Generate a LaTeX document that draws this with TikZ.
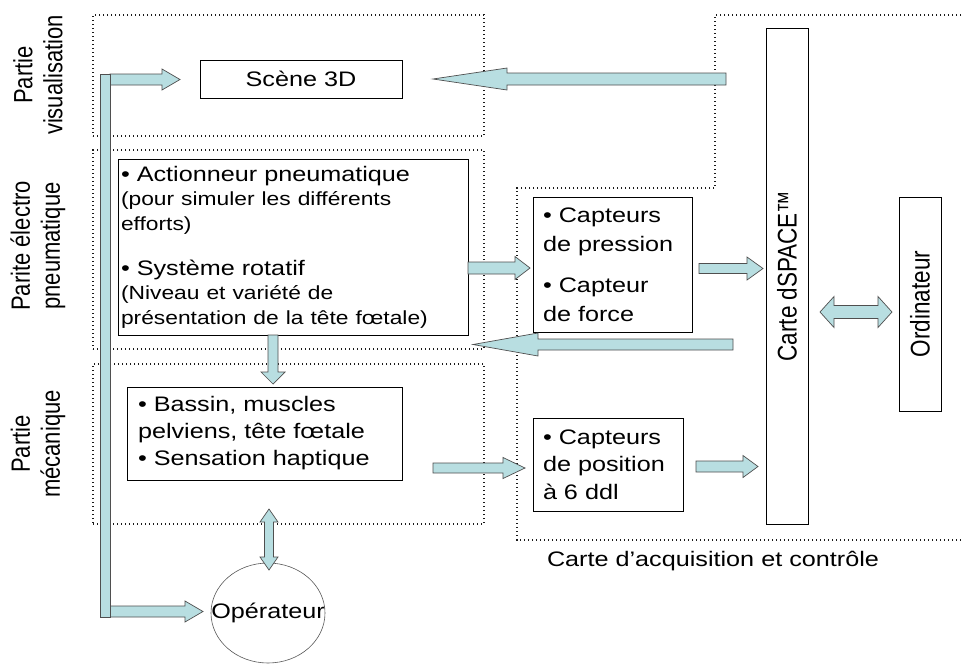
\documentclass[tikz,border=0pt]{standalone}
\usepackage{fontspec}
\setmainfont{Liberation Sans}[FakeStretch=1.2]
\newfontfamily\rotfont{Liberation Sans}
\usepackage{graphicx}
\usepackage{xcolor}
\definecolor{arrowFill}{HTML}{B8DEE1}
\definecolor{arrowLine}{HTML}{4F4F4F}
\definecolor{frameDot}{HTML}{1A1A1A}
\usetikzlibrary{shapes.geometric, calc, positioning}
\newcommand{\smallTxt}{\fontsize{19}{24.5}\selectfont}
\newcommand{\upText}[1]{\rotatebox{90}{\scalebox{1}[1.2]{#1}}}
\tikzset{
    bar shaft/.store in=\barShaft, bar head/.store in=\barHead, bar tip/.store in=\barTip,
    bar shaft=5.5pt, bar head=11pt, bar tip=16pt
}

\begin{document}
\begin{tikzpicture}[
    x=1pt, y=-1pt,
    every node/.style={inner sep=0pt, outer sep=0pt},
    box/.style={draw=black, line width=0.9pt, fill=white, font=\fontsize{21}{27}\selectfont},
    listBox/.style={box, align=left},
    vBox/.style={box, font=\rotfont\fontsize{22.5}{27}\selectfont},
    sideLbl/.style={rotate=90, yscale=1.2, align=center, font=\rotfont\fontsize{22}{25}\selectfont},
    frame/.style={draw=frameDot, line width=1.3pt, dash pattern=on 1.3pt off 2.7pt},
    % Block arrows
    arrowBody/.style={draw=arrowLine, fill=arrowFill, line width=0.7pt, line join=miter},
    barrow/.style={arrowBody, to path={
        let \p1=(\tikztostart), \p2=(\tikztotarget),
            \n1={atan2(\y2-\y1,\x2-\x1)}, \n2={veclen(\x2-\x1,\y2-\y1)} in
        [shift={(\p1)}, rotate=\n1]
        (0pt,-\barShaft) -- ({\n2*1pt-\barTip},-\barShaft) -- ({\n2*1pt-\barTip},-\barHead)
        -- ({\n2*1pt},0pt) -- ({\n2*1pt-\barTip},\barHead) -- ({\n2*1pt-\barTip},\barShaft)
        -- (0pt,\barShaft) -- cycle}},
    dbarrow/.style={arrowBody, to path={
        let \p1=(\tikztostart), \p2=(\tikztotarget),
            \n1={atan2(\y2-\y1,\x2-\x1)}, \n2={veclen(\x2-\x1,\y2-\y1)} in
        [shift={(\p1)}, rotate=\n1]
        (0pt,0pt) -- (\barTip,-\barHead) -- (\barTip,-\barShaft)
        -- ({\n2*1pt-\barTip},-\barShaft) -- ({\n2*1pt-\barTip},-\barHead)
        -- ({\n2*1pt},0pt) -- ({\n2*1pt-\barTip},\barHead) -- ({\n2*1pt-\barTip},\barShaft)
        -- (\barTip,\barShaft) -- (\barTip,\barHead) -- cycle}}
]
    \fill[white] (0,0) rectangle (962,665);
    \useasboundingbox (0,0) rectangle (962,665);

    % Dotted frames
    \node (visF) [frame, minimum width=391pt, minimum height=121pt] at (288.5,75.5) {};
    \node (elecF) [frame, minimum width=391pt, minimum height=199pt] at (288.5,249.5) {};
    \node (mecaF) [frame, minimum width=391pt, minimum height=160pt] at (288.5,444) {};
    \coordinate (acqA) at (961,15);
    \coordinate (acqB) at (715,15);
    \coordinate (acqC) at (715,188);
    \coordinate (acqD) at (517,188);
    \coordinate (acqE) at (517,540);
    \coordinate (acqF) at (961,540);
    \draw [frame] (acqA) -- (acqB) -- (acqC) -- (acqD) -- (acqE) -- (acqF);

    % Side labels
    \node (visL) [sideLbl] at (38,75) {Partie\\visualisation};
    \node (elecL) [sideLbl] at (38,246) {Parite électro\\pneumatique};
    \node (mecaL) [sideLbl] at (38,444) {Partie\\mécanique};
    \node (acqL) [font=\fontsize{21}{25}\selectfont] at (713,561) {Carte d’acquisition et contrôle};

    % Blocks
    \node (scene) [box, minimum width=202pt, minimum height=38pt] at (301,79) {Scène 3D};
    \node (act) [listBox, text width=344pt, inner xsep=3pt, minimum height=176pt,
        font=\fontsize{21}{24.5}\selectfont] at (293,247)
        {• Actionneur pneumatique\\
         {\smallTxt (pour simuler les différents}\\
         {\smallTxt efforts)}\\[20.5pt]
         • Système rotatif\\
         {\smallTxt (Niveau et variété de}\\
         {\smallTxt présentation de la tête fœtale)}};
    \node (capP) [listBox, text width=139pt, inner xsep=10pt, minimum height=135pt,
        font=\fontsize{21}{29}\selectfont] at (612.5,264.5)
        {• Capteurs\\ de pression\\[12pt] • Capteur\\ de force};
    \node (bassin) [listBox, text width=253pt, inner xsep=11pt, minimum height=93pt,
        font=\fontsize{21}{27}\selectfont] at (264.5,433.5)
        {• Bassin, muscles\\ pelviens, tête fœtale\\ • Sensation haptique};
    \node (capPos) [listBox, text width=130pt, inner xsep=10pt, minimum height=93pt,
        font=\fontsize{21}{27.5}\selectfont] at (608,464.5)
        {• Capteurs\\ de position\\ à 6 ddl};
    \node (dspace) [vBox, minimum width=42pt, minimum height=496pt] at (787,276) {\upText{Carte dSPACE™}};
    \node (ordi) [vBox, minimum width=42pt, minimum height=214pt] at (920,304) {\upText{Ordinateur}};
    \node (oper) [ellipse, draw=gray!70!black, line width=0.6pt, minimum width=114pt, minimum height=100pt] at (268,613) {};
    \node (operTxt) [font=\fontsize{21}{25}\selectfont] at (oper.center) {Opérateur};

    % Feedback bus
    \coordinate (busTop) at (105,74);
    \coordinate (busBot) at (105,617);
    \draw [barrow, bar shaft=5.5pt, bar head=10.5pt, bar tip=18pt] ($(busTop)+(5,5.5)$) to ($(scene.west)+(-20,0.5)$);
    \draw [barrow, bar shaft=5.5pt, bar head=10.5pt, bar tip=18pt] ($(busBot)+(5,-5.5)$) to ($(oper.west)+(-8,-1.5)$);
    \draw [arrowBody] ($(busTop)+(-5,0)$) rectangle ($(busBot)+(5,0)$);

    % Acquisition card outputs
    \coordinate (visOut) at (726,79);
    \coordinate (cmdOut) at (733,344.5);
    \draw [barrow, bar shaft=6pt, bar head=11pt, bar tip=74pt] (visOut) to ($(scene.east)+(31,0)$);
    \draw [barrow, bar shaft=5.5pt, bar head=11.5pt, bar tip=65pt] (cmdOut) to ($(elecF.south east)+(-11,-4.5)$);

    % Signal arrows
    \draw [barrow, bar shaft=6pt, bar head=11.5pt, bar tip=15pt] ($(act.east)+(0,21)$) to ($(capP.west)+(-3,3.5)$);
    \draw [barrow, bar shaft=5pt, bar head=11.5pt, bar tip=16pt] ($(capP.east)+(7,4)$) to ($(capP.east -| dspace.west)+(-3,4)$);
    \draw [dbarrow, bar shaft=6.5pt, bar head=15.5pt, bar tip=14pt] ($(dspace.east)+(12,36)$) to ($(ordi.west)+(-7,8)$);
    \draw [barrow, bar shaft=5pt, bar head=12pt, bar tip=12pt] ($(act.south)+(-20,0)$) to ($(bassin.north)+(8.5,-3)$);
    \draw [barrow, bar shaft=5pt, bar head=10.5pt, bar tip=22pt] ($(bassin.east)+(31,34.5)$) to ($(capPos.west)+(-8,3.5)$);
    \draw [barrow, bar shaft=5.5pt, bar head=11pt, bar tip=15pt] ($(capPos.east)+(13,2)$) to ($(capPos.east -| dspace.west)+(-8,2)$);
    \draw [dbarrow, bar shaft=4.5pt, bar head=9pt, bar tip=13pt] ($(bassin.south)+(4.5,29)$) to ($(oper.north)+(1,7)$);
\end{tikzpicture}
\end{document}
